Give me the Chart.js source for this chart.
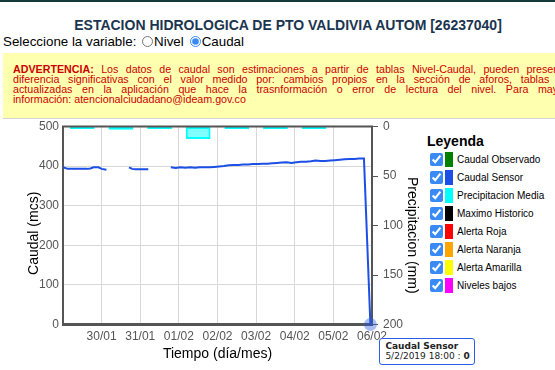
<!DOCTYPE html>
<html lang="es">
<head>
<meta charset="utf-8">
<title>Estacion hidrologica de Pto Valdivia</title>
<script src="https://cdn.jsdelivr.net/npm/chart.js@4/dist/chart.umd.min.js"></script>
<style>
  html, body { margin: 0; padding: 0; }
  body { width: 555px; height: 370px; overflow: hidden; position: relative; background: #fff;
         font-family: Arial, "Liberation Sans", sans-serif; }
  #linea { position: absolute; left: 0; top: 0; width: 555px; height: 1.5px; background: #133b3b; }
  #titulo { position: absolute; left: 0; top: 16.5px; width: 576px; text-align: center;
            font-weight: bold; font-size: 14px; line-height: 16px; color: #1b3550; white-space: nowrap; }
  #variable { position: absolute; left: 3px; top: 34px; font-size: 13.33px; line-height: 16px; white-space: nowrap; }
  #variable input { width: 11px; height: 11px; margin: 0 1px 0 2px; vertical-align: -1px; accent-color: #3a8af5; }
  #variable .sep { margin-left: 4px; }
  #aviso { position: absolute; left: 3px; top: 53px; width: 700px; height: 65px; background: #ffffb0;
           border-bottom: 1px solid #d4d4d4; color: #cc0000; font-size: 10.7px; line-height: 10px; }
  #aviso div { white-space: nowrap; padding-left: 10px; }
  #aviso div:first-child { margin-top: 10.6px; }
  #grafico { position: absolute; left: 0; top: 110px; width: 425px; height: 260px; }
  #globo { position: absolute; background: #fff; border: 1.5px solid #2a5ee8; border-radius: 3px;
           font-family: "DejaVu Sans", Verdana, sans-serif; font-size: 9px; line-height: 10.5px;
           padding: 2px 4px 2px 5px; white-space: nowrap; color: #222; z-index: 5; }
  #leyenda { position: absolute; left: 427px; top: 133px; }
  #leyenda h4 { margin: 0 0 1px 0; font-size: 14px; line-height: 16px; font-weight: bold; color: #000; }
  .fila { display: flex; align-items: center; height: 18px; font-size: 10px; color: #000; }
  .fila input { width: 13px; height: 13px; margin: 0 2px 0 3px; accent-color: #3a8af5; }
  .fila span.muestra { display: inline-block; width: 8px; height: 15px; margin-right: 4px; }
</style>
</head>
<body>
<div id="linea"></div>
<div id="titulo">ESTACION HIDROLOGICA DE PTO VALDIVIA AUTOM [26237040]</div>
<div id="variable">Seleccione la variable: <input type="radio" name="v">Nivel<span class="sep"></span><input type="radio" name="v" checked>Caudal</div>
<div id="aviso">
  <div style="word-spacing:4.4px"><b>ADVERTENCIA:</b> Los datos de caudal son estimaciones a partir de tablas Nivel-Caudal, pueden presentar</div>
  <div style="word-spacing:5.8px">diferencia significativas con el valor medido por: cambios propios en la sección de aforos, tablas no</div>
  <div style="word-spacing:6.6px">actualizadas en la aplicación que hace la trasnformación o error de lectura del nivel. Para mayor</div>
  <div>información: atencionalciudadano@ideam.gov.co</div>
</div>
<div id="grafico">
  <canvas id="caudalChart"></canvas>
  <div id="globo"></div>
</div>
<div id="leyenda"><h4>Leyenda</h4></div>

<script>
// horas desde el 29/01 00:00 (null = sin dato)
const horas = [0, 3, 6, 9, 12, 15, 17, 19, 22, 24, 27,
  34,
  41, 43, 45, 48, 51, 53,
  60,
  67, 70, 73, 76, 79, 82, 85, 88, 91, 94, 97, 100, 103, 106, 109, 112, 115, 118, 121, 124,
  127, 130, 133, 136, 139, 142, 145, 148, 151, 154, 157, 160, 163, 166, 169, 172, 175, 178,
  181, 184, 187, 191];
const caudalSensor = [397, 393, 393, 393, 393, 393, 394, 397, 397, 393, 391,
  null,
  397, 393, 392, 392, 392, 392,
  null,
  397, 395, 397, 396, 397, 396, 397, 397, 397, 398, 399, 400, 402, 403, 403, 404, 404, 405, 405, 406,
  406, 407, 408, 409, 410, 408, 410, 411, 411, 412, 414, 413, 413, 414, 415, 416, 417, 418,
  418, 419, 419, 0];

const horasPrecip = [12, 36, 60, 84, 108, 132, 156];
const precipitacion = [2.5, 3.2, 2.5, 12.5, 2.5, 2.5, 2.5];

const fechas = ['29/01', '30/01', '31/01', '01/02', '02/02', '03/02', '04/02', '05/02', '06/02'];
const fechaUltimoDato = '5/2/2019 18:00';

const leyendaNombres = ['Caudal Observado', 'Caudal Sensor', 'Precipitacion Media', 'Maximo Historico',
  'Alerta Roja', 'Alerta Naranja', 'Alerta Amarilla', 'Niveles bajos'];
const leyendaColores = ['#008000', '#1b4fe6', '#00ffff', '#000000', '#ff0000', '#ffa500', '#ffff00', '#ff00ff'];

const ley = document.getElementById('leyenda');
leyendaNombres.forEach((n, i) => {
  const fila = document.createElement('div');
  fila.className = 'fila';
  fila.innerHTML = '<input type="checkbox" checked><span class="muestra" style="background:' +
    leyendaColores[i] + '"></span><span>' + n + '</span>';
  ley.appendChild(fila);
});

const ultimo = horas.length - 1;

const bordeSuperior = {
  id: 'bordeSuperior',
  afterDatasetsDraw(chart) {
    const { ctx, chartArea: a } = chart;
    ctx.save();
    ctx.strokeStyle = '#555';
    ctx.lineWidth = 2;
    ctx.beginPath();
    ctx.moveTo(a.left - 1, a.top);
    ctx.lineTo(a.right + 1, a.top);
    ctx.stroke();
    ctx.restore();
  }
};

const globo = {
  id: 'globo',
  afterDraw(chart) {
    const p = chart.getDatasetMeta(0).data[ultimo];
    const tip = document.getElementById('globo');
    tip.innerHTML = '<b>' + chart.data.datasets[0].label + '</b><br>' + fechaUltimoDato +
      ' : <b>' + caudalSensor[ultimo] + '</b>';
    tip.style.left = (p.x + 9) + 'px';
    tip.style.top = (p.y + 13) + 'px';
  }
};

Chart.defaults.font.family = 'Arial, "Liberation Sans", sans-serif';

new Chart(document.getElementById('caudalChart'), {
  type: 'line',
  data: {
    datasets: [
      {
        label: 'Caudal Sensor',
        data: horas.map((h, i) => ({ x: h, y: caudalSensor[i] })),
        yAxisID: 'y',
        borderColor: '#1b4fe6',
        borderWidth: 2,
        tension: 0,
        spanGaps: false,
        clip: false,
        pointRadius: c => c.dataIndex === ultimo ? 6.5 : 0,
        pointBackgroundColor: 'rgba(40,90,230,0.4)',
        pointBorderWidth: 0,
        order: 0
      },
      {
        type: 'bar',
        label: 'Precipitacion Media',
        data: horasPrecip.map((h, i) => ({ x: h, y: precipitacion[i] })),
        yAxisID: 'y2',
        backgroundColor: 'rgba(0,255,255,0.5)',
        borderColor: '#00ffff',
        borderWidth: 2,
        borderSkipped: false,
        barPercentage: 0.8,
        categoryPercentage: 0.8,
        order: 1
      }
    ]
  },
  options: {
    responsive: true,
    maintainAspectRatio: false,
    animation: false,
    layout: { padding: { top: 16.5 } },
    plugins: {
      legend: { display: false },
      tooltip: { enabled: false }
    },
    scales: {
      x: {
        type: 'linear',
        min: 0,
        max: 192,
        offset: false,
        afterFit: s => { s.height = 45.5; },
        ticks: {
          stepSize: 24,
          autoSkip: false,
          maxRotation: 0,
          padding: 5,
          color: '#555',
          font: { size: 12 },
          callback: v => v === 0 ? '' : fechas[v / 24]
        },
        grid: { color: '#d8d8d8', drawTicks: false, offset: false },
        border: { color: '#555', width: 3 },
        title: {
          display: true,
          text: 'Tiempo (día/mes)',
          color: '#000',
          font: { size: 14 },
          padding: { top: 0, bottom: 7 }
        }
      },
      y: {
        position: 'left',
        min: 0,
        max: 500,
        afterFit: s => { s.width = 63; },
        ticks: { stepSize: 100, padding: 4, color: '#555', font: { size: 12 } },
        grid: { color: '#d8d8d8', drawTicks: false },
        border: { color: '#555', width: 2 },
        title: {
          display: true,
          text: 'Caudal (mcs)    ',
          color: '#000',
          font: { size: 14 },
          padding: { top: 25.6, bottom: 0 }
        }
      },
      y2: {
        position: 'right',
        reverse: true,
        min: 0,
        max: 200,
        afterFit: s => { s.width = 53; },
        ticks: { stepSize: 50, padding: 5, color: '#555', font: { size: 12 } },
        grid: { drawOnChartArea: false, drawTicks: true, tickLength: 6, color: '#555' },
        border: { color: '#555', width: 2 },
        title: {
          display: true,
          text: '     Precipitacion (mm)',
          color: '#000',
          font: { size: 14 },
          padding: { top: 4.6, bottom: 0 }
        }
      }
    }
  },
  plugins: [bordeSuperior, globo]
});
</script>
</body>
</html>
